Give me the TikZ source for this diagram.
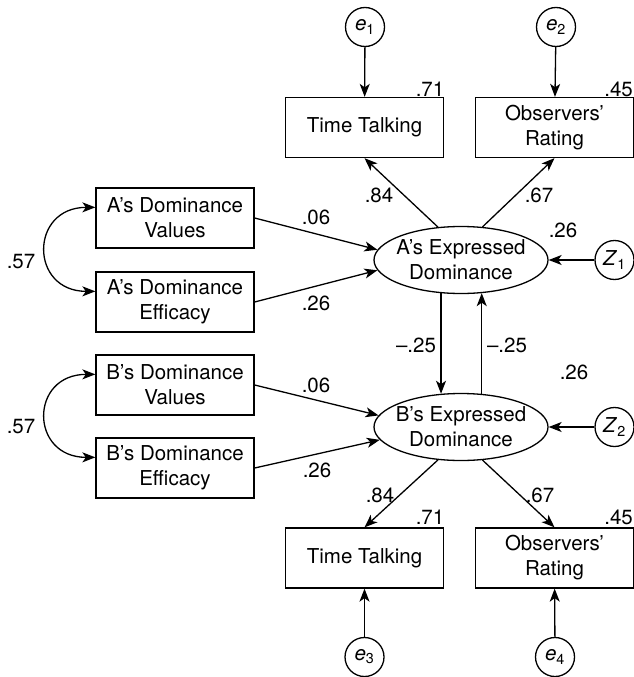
\documentclass[tikz,border=0pt]{standalone}
\usepackage{fontspec}
\setmainfont{TeX Gyre Heros}
\usetikzlibrary{arrows.meta,shapes.geometric}
\begin{document}
\begin{tikzpicture}[x=1pt,y=-1pt,
  line width=1.3pt,
  every node/.style={font=\fontsize{20.5}{25}\selectfont},
  box/.style={draw, rectangle, minimum width=158pt, minimum height=60pt, inner sep=0pt, align=center},
  lat/.style={draw, ellipse, minimum width=174pt, minimum height=67pt, inner sep=0pt},
  lattext/.style={inner sep=0pt, align=center},
  err/.style={draw, circle, minimum size=39pt, inner sep=0pt},
  num/.style={inner sep=0pt},
  arr/.style={-{Stealth[length=13pt,width=10pt,inset=3.5pt]}},
  dbl/.style={{Stealth[length=13pt,width=10pt,inset=3.5pt]}-{Stealth[length=13pt,width=10pt,inset=3.5pt]}}]
\useasboundingbox (0,0) rectangle (634,677);

% observed indicators, top (A) and bottom (B)
\node[box] (tt1) at (364.5,127.5) {Time Talking};
\node[box] (or1) at (554.5,127.5) {Observers’\\Rating};
\node[box] (tt2) at (364.5,558) {Time Talking};
\node[box] (or2) at (554.5,558) {Observers’\\Rating};

% exogenous predictors
\node[box] (av)  at (175,218) {A’s Dominance\\Values};
\node[box] (aef) at (175,302) {A’s Dominance\\Efficacy};
\node[box] (bv)  at (175,385) {B’s Dominance\\Values};
\node[box] (bef) at (175,468) {B’s Dominance\\Efficacy};

% latent variables
\node[lat] (ae) at (461,260) {};
\node[lattext] (aetxt) at (ae) {A’s Expressed\\Dominance};
\node[lat] (be) at (461,427) {};
\node[lattext] (betxt) at (be) {B’s Expressed\\Dominance};

% error terms and disturbances
\node[err] (e1) at (365,27) {\textit{e}\textsubscript{1}};
\node[err] (e2) at (556,27) {\textit{e}\textsubscript{2}};
\node[err] (e3) at (364.5,657) {\textit{e}\textsubscript{3}};
\node[err] (e4) at (555,657) {\textit{e}\textsubscript{4}};
\node[err] (z1) at (614.5,260) {\textit{Z}\textsubscript{1}};
\node[err] (z2) at (614.5,427) {\textit{Z}\textsubscript{2}};

% paths
\draw[arr] (e1) -- (tt1);
\draw[arr] (e2) -- (or1);
\draw[arr] (e3) -- (tt2);
\draw[arr] (e4) -- (or2);
\draw[arr] (z1) -- (ae);
\draw[arr] (z2) -- (be);

\draw[arr] (ae.125) -- (tt1.south);
\draw[arr] (ae.57) -- (or1.south);
\draw[arr] (be.235) -- (tt2.north);
\draw[arr] (be.303) -- (or2.north);

\draw[arr] (av.east) -- (ae.173);
\draw[arr] (aef.east) -- (ae.187);
\draw[arr] (bv.east) -- (be.172);
\draw[arr] (bef.east) -- (be.189);

\draw[arr] (ae.239) -- (be.121);
\draw[arr] (be.58) -- (ae.302);

\draw[dbl] ([yshift=-20pt]av.north west) .. controls +(-66,0) and +(-66,0) .. ([yshift=-20pt]aef.north west);
\draw[dbl] ([yshift=-20pt]bv.north west) .. controls +(-66,0) and +(-66,0) .. ([yshift=-20pt]bef.north west);

% coefficients
\node[num] (l71a) at (430,89) {.71};
\node[num, anchor=east] (l45a) at (633.5,89) {.45};
\node[num] (l84a) at (379,195) {.84};
\node[num] (l67a) at (539,195) {.67};
\node[num] (l26a) at (563,230) {.26};
\node[num] (l06a) at (316,217) {.06};
\node[num] (l26b) at (316,303) {.26};
\node[num] (l57a) at (21,262) {.57};
\node[num] (l25a) at (416,345) {–.25};
\node[num] (l25b) at (507,345) {–.25};
\node[num] (l26c) at (574,372) {.26};
\node[num] (l06b) at (316,385) {.06};
\node[num] (l26d) at (317,470) {.26};
\node[num] (l57b) at (21,427) {.57};
\node[num] (l84b) at (380,495) {.84};
\node[num] (l67b) at (540,495) {.67};
\node[num] (l71b) at (430,517) {.71};
\node[num, anchor=east] (l45b) at (633.5,517) {.45};
\end{tikzpicture}
\end{document}
